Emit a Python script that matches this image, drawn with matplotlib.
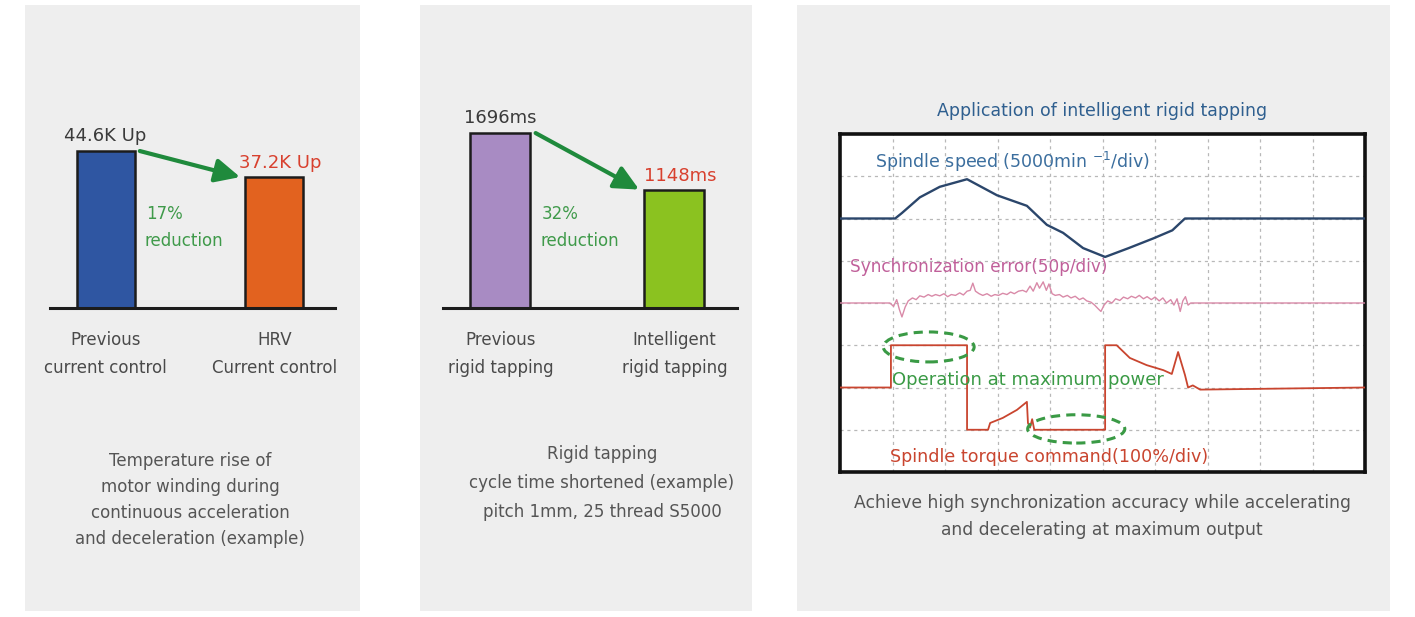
import matplotlib
matplotlib.use("Agg")
import matplotlib.pyplot as plt
from matplotlib.patches import Rectangle, Ellipse

W, H = 1415, 617
plt.rcParams['font.family'] = 'DejaVu Sans'

####################################################
# panel 1: temperature rise of motor winding
temp_cats = [["Previous", "current control"], ["HRV", "Current control"]]
temp_vals = [44.6, 37.2]
temp_tags = ["44.6K Up", "37.2K Up"]
temp_colors = ["#2f56a2", "#e2621f"]
temp_drop = ["17%", "reduction"]
temp_caption = ["Temperature rise of", "motor winding during",
                "continuous acceleration", "and deceleration (example)"]

# panel 2: rigid tapping cycle time
tap_cats = [["Previous", "rigid tapping"], ["Intelligent", "rigid tapping"]]
tap_vals = [1696, 1148]
tap_tags = ["1696ms", "1148ms"]
tap_colors = ["#a88bc3", "#8bc220"]
tap_drop = ["32%", "reduction"]
tap_caption = ["Rigid tapping", "cycle time shortened (example)",
               "pitch 1mm, 25 thread S5000"]

# panel 3: oscilloscope traces, x in divisions (10), y in divisions (8)
scope_title = "Application of intelligent rigid tapping"
scope_caption = ["Achieve high synchronization accuracy while accelerating",
                 "and decelerating at maximum output"]

speed_x = [0, 1.05, 1.18, 1.52, 1.9, 2.42, 2.99, 3.56, 3.94, 4.25, 4.63, 5.05,
           5.5, 5.97, 6.33, 6.57, 10]
speed_y = [6, 6, 6.13, 6.5, 6.75, 6.93, 6.55, 6.30, 5.85, 5.66, 5.3, 5.09,
           5.3, 5.53, 5.72, 6.0, 6.0]

sync_x = [0, 0.95, 1.02, 1.08, 1.13, 1.18, 1.24, 1.3, 1.38, 1.45, 1.52, 1.6,
          1.68, 1.75, 1.82, 1.9, 1.98, 2.05, 2.12, 2.2, 2.28, 2.35, 2.42, 2.48,
          2.53, 2.58, 2.65, 2.72, 2.8, 2.88, 2.95, 3.02, 3.1, 3.18, 3.25, 3.32,
          3.4, 3.48, 3.55, 3.62, 3.68, 3.75, 3.8, 3.87, 3.93, 3.98, 4.04, 4.1,
          4.18, 4.25, 4.33, 4.4, 4.48, 4.56, 4.63, 4.7, 4.78, 4.85, 4.92, 4.97,
          5.03, 5.1, 5.18, 5.25, 5.33, 5.4, 5.48, 5.55, 5.63, 5.7, 5.78, 5.85,
          5.93, 6.0, 6.08, 6.15, 6.22, 6.3, 6.36, 6.42, 6.48, 6.53, 6.58, 6.63,
          6.68, 10]
sync_y = [4.0, 4.0, 3.92, 4.08, 3.85, 3.67, 3.9, 4.05, 4.12, 4.08, 4.17, 4.14,
          4.2, 4.16, 4.2, 4.17, 4.22, 4.15, 4.2, 4.18, 4.24, 4.19, 4.28, 4.3,
          4.47, 4.28, 4.22, 4.18, 4.22, 4.16, 4.2, 4.18, 4.23, 4.2, 4.26, 4.22,
          4.28, 4.3, 4.26, 4.4, 4.28, 4.48, 4.35, 4.5, 4.3, 4.45, 4.22, 4.18,
          4.2, 4.14, 4.18, 4.12, 4.16, 4.08, 4.12, 4.05, 4.02, 3.95, 3.86, 3.8,
          3.95, 4.05, 4.0, 4.1, 4.06, 4.14, 4.1, 4.16, 4.12, 4.18, 4.1, 4.15,
          4.08, 4.14, 4.05, 4.12, 4.0, 4.08, 3.95, 4.1, 3.8, 4.05, 4.15, 3.95,
          4.0, 4.0]

torque_x = [0, 0.97, 0.97, 2.42, 2.42, 2.82, 2.86, 3.1, 3.37, 3.56, 3.58, 3.62,
            3.66, 3.7, 3.75, 5.05, 5.05, 5.27, 5.52, 5.84, 6.16, 6.32, 6.44,
            6.57, 6.63, 6.72, 6.86, 10]
torque_y = [2, 2, 3, 3, 1, 1, 1.16, 1.28, 1.47, 1.66, 1.16, 1.05,
            1.25, 1.0, 1.0, 1.0, 3, 3, 2.7, 2.53, 2.41, 2.32, 2.84,
            2.3, 2.0, 2.05, 1.95, 2.0]

# "maximum power" marks
mark_x = [1.69, 4.5]
mark_y = [2.96, 1.02]
mark_w = [1.73, 1.85]
mark_h = [0.71, 0.67]

GREEN = "#1f8a3c"
TEXT = "#4a4a4a"
####################################################

def frac(x0, y0, x1, y1):
    # pixel box -> figure fraction rect
    return [x0 / W, 1 - y1 / H, (x1 - x0) / W, (y1 - y0) / H]


fig = plt.figure(figsize=(W / 100, H / 100), dpi=100)
fig.patch.set_facecolor("white")

bg = fig.add_axes([0, 0, 1, 1], zorder=0)
bg.set_xlim(0, W)
bg.set_ylim(H, 0)
bg.axis("off")
for x0, x1 in [(25, 360), (420, 752), (797, 1390)]:
    bg.add_patch(Rectangle((x0, 5), x1 - x0, 606, facecolor="#eeeeee",
                           edgecolor="none"))


def bar_panel(box, cats, vals, tags, colors, drop, ymax):
    ax = fig.add_axes(frac(*box), zorder=2)
    ax.patch.set_visible(False)
    w = 0.345
    xs = list(range(len(vals)))
    ax.bar(xs, vals, width=w, color=colors, edgecolor="#1c1c1c",
           linewidth=1.8, zorder=2)
    ax.set_xlim(-0.33, 1.36)
    ax.set_ylim(0, ymax)
    for s in ["top", "right", "left"]:
        ax.spines[s].set_visible(False)
    ax.spines["bottom"].set_linewidth(2.2)
    ax.spines["bottom"].set_color("#1c1c1c")
    ax.set_xticks([])
    ax.set_yticks([])

    # value tags
    ax.annotate(tags[0], (0, vals[0]), xytext=(0, 11), textcoords="offset points",
                ha="center", va="center", fontsize=13, color="#3a3a3a")
    ax.annotate(tags[1], (1, vals[1]), xytext=(4, 10), textcoords="offset points",
                ha="center", va="center", fontsize=13, color="#d8402e")
    # arrow
    ax.annotate("", xy=(1 - w / 2 - 0.03, vals[1]), xytext=(w / 2 + 0.03, vals[0]),
                arrowprops=dict(arrowstyle="-|>,head_length=0.75,head_width=0.36",
                                lw=3, color=GREEN, mutation_scale=20,
                                shrinkA=0, shrinkB=0))
    ax.text(0.336, 0.452, drop[0], transform=ax.transAxes, fontsize=12,
            color="#3f9a4a", ha="left", va="center")
    ax.text(0.333, 0.32, drop[1], transform=ax.transAxes, fontsize=12,
            color="#3f9a4a", ha="left", va="center")

    # category labels under the baseline
    for i, lines in enumerate(cats):
        for k, line in enumerate(lines):
            ax.annotate(line, (i, 0), xytext=(0, -(32 + 28 * k) * 0.72),
                        textcoords="offset points", ha="center", va="center",
                        fontsize=12, color=TEXT)
    return ax


bar_panel((50, 100, 335, 308), temp_cats, temp_vals, temp_tags, temp_colors,
          temp_drop, temp_vals[0] * 1.325)
bar_panel((443, 100, 737, 308), tap_cats, tap_vals, tap_tags, tap_colors,
          tap_drop, tap_vals[0] * 1.189)

for i, line in enumerate(temp_caption):
    bg.text(190, 461 + 26 * i, line, ha="center", va="center", fontsize=12,
            color="#555555")
for i, line in enumerate(tap_caption):
    bg.text(602, 454 + 29 * i, line, ha="center", va="center", fontsize=12,
            color="#555555")

# oscilloscope panel
bg.text(1102, 111, scope_title, ha="center", va="center", fontsize=12.5,
        color="#2f5f8f")
for i, line in enumerate(scope_caption):
    bg.text(1102, 503 + 27 * i, line, ha="center", va="center", fontsize=12.3,
            color="#555555")

sc = fig.add_axes(frac(840, 134, 1365, 472), zorder=2)
sc.set_facecolor("white")
sc.set_xlim(0, 10)
sc.set_ylim(0, 8)
sc.set_xticks([])
sc.set_yticks([])
for s in sc.spines.values():
    s.set_linewidth(2.6)
    s.set_color("#111111")
for i in range(1, 10):
    sc.axvline(i, color="#b8b8b8", lw=0.9, ls=(0, (2.5, 3)), zorder=1)
for j in range(1, 8):
    sc.axhline(j, color="#b8b8b8", lw=0.9, ls=(0, (2.5, 3)), zorder=1)

sc.plot(speed_x, speed_y, color="#2b466b", lw=1.7, zorder=3)
sc.plot(sync_x, sync_y, color="#d98aa8", lw=1.0, zorder=3)
sc.plot(torque_x, torque_y, color="#c9452f", lw=1.3, zorder=3)

for cx, cy, ew, eh in zip(mark_x, mark_y, mark_w, mark_h):
    sc.add_patch(Ellipse((cx, cy), ew, eh, fill=False, edgecolor="#3a9a45",
                         lw=2.2, ls=(0, (3, 2)), zorder=4))

sc.text(0.67, 7.34, "Spindle speed (5000min $^{-1}$/div)", fontsize=12.5,
        color="#3b6e9e", ha="left", va="center")
sc.text(0.19, 4.85, "Synchronization error(50p/div)", fontsize=12.2,
        color="#c0609a", ha="left", va="center")
sc.text(1.0, 2.18, "Operation at maximum power", fontsize=13,
        color="#3a9a45", ha="left", va="center", zorder=5)
sc.text(0.95, 0.36, "Spindle torque command(100%/div)", fontsize=12.6,
        color="#c9452f", ha="left", va="center")

fig.savefig("out.png", dpi=100, facecolor="white")
